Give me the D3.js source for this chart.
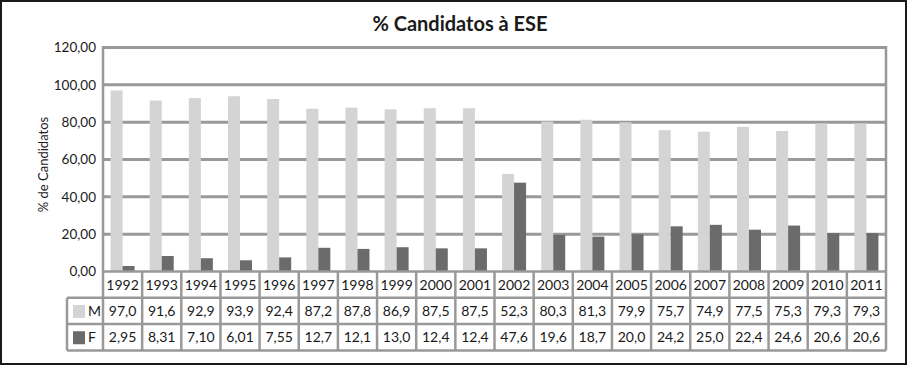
<!DOCTYPE html>
<html><head><meta charset="utf-8">
<script src="https://cdn.jsdelivr.net/npm/d3@7"></script>
<style>
html,body{margin:0;padding:0;background:#fff;}
text{font-family:Lato,"Open Sans",sans-serif;}
</style></head>
<body>
<svg id="chart" width="909" height="366"></svg>
<script>
const years = ["1992","1993","1994","1995","1996","1997","1998","1999","2000","2001","2002","2003","2004","2005","2006","2007","2008","2009","2010","2011"];
const valuesM = [97.0,91.6,92.9,93.9,92.4,87.2,87.8,86.9,87.5,87.5,52.3,80.3,81.3,79.9,75.7,74.9,77.5,75.3,79.3,79.3];
const valuesF = [2.95,8.31,7.10,6.01,7.55,12.7,12.1,13.0,12.4,12.4,47.6,19.6,18.7,20.0,24.2,25.0,22.4,24.6,20.6,20.6];
const labelsM = ["97,0","91,6","92,9","93,9","92,4","87,2","87,8","86,9","87,5","87,5","52,3","80,3","81,3","79,9","75,7","74,9","77,5","75,3","79,3","79,3"];
const labelsF = ["2,95","8,31","7,10","6,01","7,55","12,7","12,1","13,0","12,4","12,4","47,6","19,6","18,7","20,0","24,2","25,0","22,4","24,6","20,6","20,6"];
const yTicks = [0,20,40,60,80,100,120];
const seriesNames = ["M","F"];
const title = "% Candidatos à ESE";
const yTitle = "% de Candidatos";

const colM = "#d4d4d4", colF = "#6b6b6b", gridCol = "#999999";
const svg = d3.select("#chart");

const L = 103, R = 886, T = 47.5, B = 271.5;
const x = d3.scaleBand().domain(years).range([L, R]);
const y = d3.scaleLinear().domain([0,120]).range([B, T]);
const bw = 12;
const x1 = d3.scaleBand().domain(seriesNames).range([0, bw*2]);

svg.append("rect").attr("x",1).attr("y",1).attr("width",905).attr("height",363)
  .attr("fill","#fff").attr("stroke","#1a1a1a").attr("stroke-width",2);

svg.append("text").attr("x",460).attr("y",31).attr("text-anchor","middle")
  .attr("font-size",20).attr("font-weight","bold").attr("fill","#1a1a1a").text(title);

svg.append("g").selectAll("line").data(yTicks.filter(d=>d>0)).join("line")
  .attr("x1",L).attr("x2",R).attr("y1",d=>y(d)).attr("y2",d=>y(d))
  .attr("stroke",gridCol).attr("stroke-width",3);

const yAxis = d3.axisLeft(y).tickValues(yTicks).tickSize(0).tickPadding(6)
  .tickFormat(d=>d3.format(".2f")(d).replace(".",","));
const ga = svg.append("g").attr("transform",`translate(${L-1},0)`).call(yAxis);
ga.select(".domain").remove();
ga.selectAll("text").attr("font-size",13.5).attr("fill","#1a1a1a").attr("font-family","Lato");

svg.append("text").attr("transform",`translate(48,${(T+B)/2+5}) rotate(-90)`)
  .attr("text-anchor","middle").attr("font-size",13).attr("fill","#1a1a1a").text(yTitle);

const groups = svg.append("g").selectAll("g").data(years).join("g")
  .attr("transform",d=>`translate(${x(d)+x.bandwidth()/2-bw},0)`);
groups.append("rect").attr("x",x1("M")).attr("width",bw)
  .attr("y",(d,i)=>y(valuesM[i])).attr("height",(d,i)=>B-y(valuesM[i])).attr("fill",colM);
groups.append("rect").attr("x",x1("F")).attr("width",bw)
  .attr("y",(d,i)=>y(valuesF[i])).attr("height",(d,i)=>B-y(valuesF[i])).attr("fill",colF);

const rowH = 26.3;
const r0 = B, r1 = B+rowH, r2 = B+2*rowH, r3 = B+3*rowH;
const LL = 67;
const tbl = svg.append("g");
const lineStyle = sel => sel.attr("stroke",gridCol).attr("stroke-width",2.5);
tbl.append("line").attr("x1",L).attr("x2",R).attr("y1",r0).attr("y2",r0).call(lineStyle);
[r1,r2,r3].forEach(yy=>tbl.append("line").attr("x1",LL).attr("x2",R).attr("y1",yy).attr("y2",yy).call(lineStyle));
const xs = years.map(d=>x(d)).concat([R]);
tbl.selectAll("line.v").data(xs).join("line").attr("class","v")
  .attr("x1",d=>d).attr("x2",d=>d).attr("y2",r3).call(lineStyle)
  .attr("y1",(d,i)=> (i===0||i===xs.length-1) ? T-1.5 : r0);
tbl.append("line").attr("x1",LL).attr("x2",LL).attr("y1",r1).attr("y2",r3).call(lineStyle);

const txt = (xx,yy,t,anchor)=>tbl.append("text").attr("x",xx).attr("y",yy)
  .attr("text-anchor",anchor||"middle").attr("font-size",14).attr("fill","#1a1a1a").text(t);
years.forEach((d,i)=>{
  const cx = x(d)+x.bandwidth()/2;
  txt(cx, r0+rowH/2+5, d);
  txt(cx, r1+rowH/2+5, labelsM[i]);
  txt(cx, r2+rowH/2+5, labelsF[i]);
});
[[r1,colM,"M"],[r2,colF,"F"]].forEach(([ry,c,n])=>{
  tbl.append("rect").attr("x",73).attr("y",ry+rowH/2-6).attr("width",12).attr("height",13).attr("fill",c);
  txt(88, ry+rowH/2+5, n, "start");
});
</script>
</body></html>
